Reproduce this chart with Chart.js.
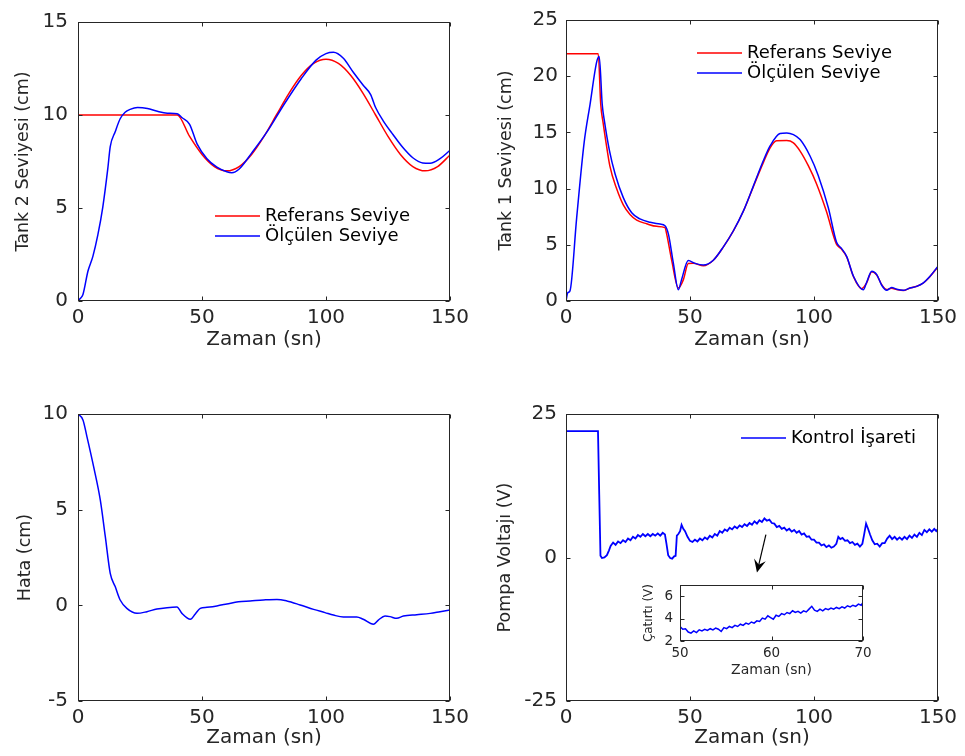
<!DOCTYPE html>
<html lang="tr">
<head>
<meta charset="UTF-8" />
<title>Tank seviye kontrolü</title>
<script src="https://cdn.jsdelivr.net/npm/chart.js"></script>
<style>
  html, body { margin: 0; padding: 0; background: #fff; }
  #wrap { position: relative; width: 965px; height: 756px; overflow: hidden; }
  canvas { position: absolute; }
</style>
</head>
<body>
<div id="wrap">
  <canvas id="c1" width="482" height="378" style="left:0;top:0"></canvas>
  <canvas id="c2" width="483" height="378" style="left:482px;top:0"></canvas>
  <canvas id="c3" width="482" height="378" style="left:0;top:378px"></canvas>
  <canvas id="c4" width="483" height="378" style="left:482px;top:378px"></canvas>
  <canvas id="c5" width="248" height="112" style="left:632px;top:570px"></canvas>
</div>
<script>
// ---- data ----
const timeTicks = [0, 50, 100, 150];

// Tank 2 (top left)
const t2RefT = [0, 40, 45, 50, 55, 60, 65, 70, 75, 80, 85, 90, 95, 100, 105, 110, 115, 120, 125, 130, 135, 140, 145, 150];
const t2RefV = [10, 10, 8.85, 7.88, 7.23, 7.0, 7.23, 7.88, 8.85, 10.0, 11.15, 12.12, 12.77, 13.0, 12.77, 12.12, 11.15, 10.0, 8.85, 7.88, 7.23, 7.0, 7.23, 7.85];
const t2MeasT = [0, 1, 2, 4, 6, 8, 10, 12, 13, 15, 17, 19, 21, 24, 28, 32, 36, 40, 42, 45, 48, 52, 56, 60, 62, 65, 70, 76, 83, 90, 96, 100, 103, 107, 111, 115, 118, 120, 123, 127, 131, 135, 139, 142, 146, 150];
const t2MeasV = [0, 0.15, 0.35, 1.6, 2.4, 3.55, 5.05, 7.1, 8.3, 9.1, 9.8, 10.15, 10.3, 10.4, 10.35, 10.2, 10.1, 10.07, 9.85, 9.5, 8.45, 7.65, 7.2, 6.95, 6.9, 7.1, 7.95, 9.05, 10.55, 11.95, 12.95, 13.3, 13.37, 13.05, 12.3, 11.6, 11.1, 10.4, 9.7, 8.95, 8.25, 7.7, 7.42, 7.4, 7.65, 8.1];
const t2Ticks = [0, 5, 10, 15];

// Tank 1 (top right)
const t1RefT = [0, 13, 14, 15, 16, 17.7, 20.4, 23.1, 25.8, 28.5, 32.5, 36.6, 39.9, 40.6, 42.6, 45.3, 47.3, 49.3, 51.3, 55.4, 59.4, 63.4, 67.5, 71.5, 75.5, 79.6, 82.3, 84.9, 89, 91.7, 94.4, 97.7, 101, 105, 109, 111, 113.2, 115.9, 119.2, 121.2, 123.3, 125.3, 127.3, 129.3, 131.3, 133.3, 136, 138.7, 141.4, 144.1, 146.8, 150];
const t1RefV = [22, 22, 17.5, 15.8, 14.3, 12.0, 10.0, 8.55, 7.7, 7.2, 6.87, 6.64, 6.53, 5.95, 3.63, 1.16, 1.88, 3.33, 3.35, 3.13, 3.63, 4.79, 6.24, 7.98, 10.15, 12.33, 13.63, 14.25, 14.27, 14.07, 13.34, 12.04, 10.44, 7.98, 5.08, 4.64, 3.92, 2.18, 1.1, 1.6, 2.61, 2.32, 1.45, 1.02, 1.13, 1.02, 0.93, 1.16, 1.31, 1.6, 2.18, 3.05];
const t1MeasT = [0, 0.7, 1.6, 4.3, 7.3, 9.7, 12.4, 13.4, 14.6, 15.5, 17.5, 19.8, 23.1, 26.5, 29.8, 33.9, 37.9, 39.9, 41.3, 43.3, 45.3, 46.6, 49.3, 52, 55.4, 59.4, 63.4, 67.5, 71.5, 75.5, 79.6, 82.3, 86.3, 89, 91.7, 94.4, 98.4, 101.7, 105.8, 109.1, 111, 113.2, 115.9, 119.9, 121.2, 123.3, 125.3, 127.3, 129.3, 131.3, 133.3, 136, 138.7, 141.4, 144.1, 146.8, 150];
const t1MeasV = [0, 0.73, 0.9, 7.4, 14.07, 17.5, 21.3, 21.75, 17.5, 16.0, 13.4, 11.3, 9.2, 7.85, 7.3, 7.0, 6.85, 6.7, 5.95, 3.34, 1.0, 1.9, 3.6, 3.35, 3.2, 3.63, 4.8, 6.25, 8.0, 10.2, 12.5, 13.8, 14.9, 14.95, 14.8, 14.36, 12.9, 11.17, 8.27, 5.22, 4.7, 3.95, 2.2, 1.0, 1.65, 2.65, 2.35, 1.4, 0.95, 1.2, 1.05, 0.95, 1.15, 1.3, 1.62, 2.2, 3.1];
const t1Ticks = [0, 5, 10, 15, 20, 25];

// Hata (bottom left)
const errT = [0, 2, 3.6, 6.3, 9, 11, 13, 15, 17, 19.7, 23.8, 27.8, 31.8, 35.9, 39.9, 41.9, 45.3, 47.3, 49.3, 52, 56, 60, 64.7, 69.4, 74.8, 80.2, 84.2, 89.6, 95, 99.6, 103, 107, 112.4, 115, 119.1, 121.1, 123.8, 125.8, 128.5, 131.2, 136.6, 142, 146, 150];
const errV = [10, 9.69, 8.82, 7.25, 5.5, 3.6, 1.67, 0.98, 0.28, -0.16, -0.42, -0.33, -0.19, -0.12, -0.09, -0.42, -0.73, -0.45, -0.16, -0.1, -0.03, 0.07, 0.19, 0.23, 0.28, 0.31, 0.23, 0.02, -0.21, -0.38, -0.51, -0.61, -0.61, -0.73, -0.99, -0.77, -0.56, -0.59, -0.68, -0.56, -0.49, -0.42, -0.33, -0.24];
const errTicks = [-5, 0, 5, 10];

// Pompa voltajı (bottom right)
const uT = [0, 12.9, 13.4, 13.9, 14.5, 15.5, 16.5, 17.3, 18, 19, 20, 21, 22, 23, 24, 25, 26, 27, 28, 29, 30, 31, 32, 33, 34, 35, 36, 37, 38, 39, 39.9, 40.5, 41.2, 42, 42.8, 43.6, 44.2, 44.7, 45.3, 46, 46.6, 47.3, 48, 49, 50, 51, 52, 53, 54, 55, 56, 57, 58, 59, 60, 61, 62, 63, 64, 65, 66, 67, 68, 69, 70, 71, 72, 73, 74, 75, 76, 77, 78, 79, 80, 81, 82, 83, 84, 85, 86, 87, 88, 89, 90, 91, 92, 93, 94, 95, 96, 97, 98, 99, 100, 101, 102, 103, 104, 105, 106, 107, 108, 109, 109.8, 110.6, 111.5, 112.5, 113.5, 114.5, 115.5, 116.5, 117.5, 118.5, 119.5, 120.3, 121, 121.8, 122.6, 123.5, 124.5, 125.5, 126.5, 127.5, 128.5, 129.5, 130.5, 131.5, 132.5, 133.5, 134.5, 135.5, 136.5, 137.5, 138.5, 139.5, 140.5, 141.5, 142.5, 143.5, 144.5, 145.5, 146.5, 147.5, 148.5, 149.3, 150];
const uV = [22, 22, 11, 0.3, -0.1, 0, 0.4, 1.2, 2.0, 2.6, 2.2, 2.8, 2.5, 3.0, 2.7, 3.3, 3.0, 3.6, 3.3, 3.9, 3.6, 4.1, 3.7, 4.1, 3.7, 4.1, 3.8, 4.2, 3.8, 4.3, 4.0, 2.4, 0.4, -0.1, -0.2, 0.2, 0.3, 3.8, 4.1, 4.6, 5.7, 5.0, 4.6, 3.6, 2.9, 2.7, 3.1, 2.8, 3.3, 3.0, 3.5, 3.2, 3.8, 3.5, 4.1, 3.8, 4.6, 4.3, 4.9, 4.6, 5.2, 4.9, 5.4, 5.1, 5.6, 5.3, 5.8, 5.5, 6.0, 5.7, 6.3, 5.9, 6.5, 6.2, 6.8, 6.4, 6.6, 6.0, 5.9, 5.3, 5.5, 5.0, 5.2, 4.7, 5.0, 4.5, 4.8, 4.3, 4.6, 4.0, 4.2, 3.6, 3.7, 3.1, 3.1, 2.6, 2.6, 2.1, 2.3, 1.8, 2.1, 1.7, 1.9, 2.4, 3.6, 3.2, 3.4, 2.9, 3.0, 2.5, 2.7, 2.2, 2.4, 1.9, 2.4, 4.2, 5.9, 5.0, 4.0, 3.0, 2.3, 2.4, 1.9, 2.5, 2.5, 3.3, 3.8, 3.2, 3.6, 3.1, 3.5, 3.1, 3.6, 3.2, 3.8, 3.4, 4.0, 3.6, 4.3, 3.9, 4.8, 4.4, 4.9, 4.5, 5.0, 4.6, 5.0];
const uTicks = [-25, 0, 25];

// Çatırtı inset (50-70 s)
const insT = [50, 50.3, 50.6, 50.9, 51.2, 51.5, 51.8, 52.1, 52.4, 52.7, 53, 53.3, 53.6, 53.9, 54.2, 54.5, 54.8, 55.1, 55.4, 55.7, 56, 56.3, 56.6, 56.9, 57.2, 57.5, 57.8, 58.1, 58.4, 58.7, 59, 59.3, 59.6, 59.9, 60.2, 60.5, 60.8, 61.1, 61.4, 61.7, 62, 62.3, 62.6, 62.9, 63.2, 63.5, 63.8, 64.1, 64.4, 64.7, 65, 65.3, 65.6, 65.9, 66.2, 66.5, 66.8, 67.1, 67.4, 67.7, 68, 68.3, 68.6, 68.9, 69.2, 69.5, 69.8, 70];
const insV = [3.3, 3.05, 3.1, 2.8, 2.7, 2.9, 2.75, 3.0, 2.9, 3.05, 2.95, 3.1, 3.0, 3.15, 3.05, 2.85, 3.2, 3.1, 3.3, 3.2, 3.4, 3.3, 3.5, 3.4, 3.6, 3.5, 3.7, 3.6, 3.8, 3.75, 4.05, 3.95, 4.25, 4.1, 3.95, 4.3, 4.2, 4.45, 4.35, 4.55, 4.45, 4.7, 4.55, 4.65, 4.5, 4.7, 4.6, 4.85, 5.1, 4.75, 4.65, 4.85, 4.7, 4.9, 4.8, 4.95, 4.85, 5.0, 4.9, 5.05, 4.95, 5.15, 5.05, 5.2, 5.1, 5.3, 5.2, 5.45];
const insXTicks = [50, 60, 70];
const insYTicks = [2, 4, 6];

// ---- drawing ----
const FONT = "'DejaVu Sans', sans-serif";
const INK = '#262626';
const RED = '#ff0000';
const BLUE = '#0000ff';
Chart.defaults.font.family = FONT;
Chart.defaults.color = INK;

const pts = (ts, vs) => ts.map((t, i) => ({ x: t, y: vs[i] }));

// matlab style box with inward ticks on all sides
const boxPlugin = {
  id: 'box',
  beforeDatasetsDraw(chart, args, o) {
    if (!o.fill) return;
    const a = chart.chartArea, ctx = chart.ctx;
    ctx.save();
    ctx.fillStyle = '#fff';
    ctx.fillRect(a.left, a.top, a.right - a.left, a.bottom - a.top);
    ctx.restore();
  },
  afterDraw(chart, args, o) {
    const { ctx, chartArea: a, scales } = chart;
    const len = o.len || 4;
    const L = Math.round(a.left) + 0.5, R = Math.round(a.right) - 0.5;
    const T = Math.round(a.top) + 0.5, B = Math.round(a.bottom) - 0.5;
    ctx.save();
    ctx.strokeStyle = INK;
    ctx.lineWidth = 1;
    ctx.strokeRect(L, T, R - L, B - T);
    ctx.beginPath();
    scales.x.ticks.forEach(tk => {
      const p = Math.round(scales.x.getPixelForValue(tk.value)) + 0.5;
      ctx.moveTo(p, B); ctx.lineTo(p, B - len);
      ctx.moveTo(p, T); ctx.lineTo(p, T + len);
    });
    scales.y.ticks.forEach(tk => {
      const p = Math.round(scales.y.getPixelForValue(tk.value)) + 0.5;
      ctx.moveTo(L, p); ctx.lineTo(L + len, p);
      ctx.moveTo(R, p); ctx.lineTo(R - len, p);
    });
    ctx.stroke();
    ctx.restore();
  }
};

// legend without a frame, at a given spot
const legendPlugin = {
  id: 'mlegend',
  afterDraw(chart, args, o) {
    if (!o.show) return;
    const ctx = chart.ctx;
    ctx.save();
    ctx.font = o.size + 'px ' + FONT;
    ctx.textBaseline = 'middle';
    chart.data.datasets.forEach((ds, i) => {
      const y = o.y + i * o.gap;
      ctx.strokeStyle = ds.borderColor;
      ctx.lineWidth = 1.5;
      ctx.beginPath();
      ctx.moveTo(o.x, y); ctx.lineTo(o.x + o.len, y);
      ctx.stroke();
      ctx.fillStyle = '#000';
      ctx.fillText(ds.label, o.x + o.len + 5, y);
    });
    ctx.restore();
  }
};

// annotation arrow (data coordinates)
const arrowPlugin = {
  id: 'arrow',
  afterDraw(chart, args, o) {
    if (!o.show) return;
    const { ctx, scales: { x, y } } = chart;
    const x0 = x.getPixelForValue(o.fx), y0 = y.getPixelForValue(o.fy);
    const x1 = x.getPixelForValue(o.tx), y1 = y.getPixelForValue(o.ty);
    const d = Math.hypot(x1 - x0, y1 - y0);
    const ux = (x1 - x0) / d, uy = (y1 - y0) / d;
    const px = -uy, py = ux;
    const hl = 13, hw = 6;
    ctx.save();
    ctx.strokeStyle = '#000';
    ctx.fillStyle = '#000';
    ctx.lineWidth = 1.2;
    ctx.beginPath();
    ctx.moveTo(x0, y0); ctx.lineTo(x1 - ux * 6, y1 - uy * 6);
    ctx.stroke();
    ctx.beginPath();
    ctx.moveTo(x1, y1);
    ctx.lineTo(x1 - ux * hl + px * hw, y1 - uy * hl + py * hw);
    ctx.lineTo(x1 - ux * hl * 0.6, y1 - uy * hl * 0.6);
    ctx.lineTo(x1 - ux * hl - px * hw, y1 - uy * hl - py * hw);
    ctx.closePath();
    ctx.fill();
    ctx.restore();
  }
};

function panel(id, o) {
  return new Chart(document.getElementById(id), {
    type: 'line',
    data: { datasets: o.datasets },
    options: {
      responsive: false,
      animation: false,
      devicePixelRatio: 1,
      layout: { padding: { top: o.padTop, right: o.padRight, left: 0, bottom: 0 } },
      elements: { point: { radius: 0 } },
      plugins: {
        legend: { display: false },
        tooltip: { enabled: false },
        box: { fill: !!o.fill },
        mlegend: o.legend || { show: false },
        arrow: o.arrow || { show: false }
      },
      scales: {
        x: {
          type: 'linear', min: o.xMin, max: o.xMax,
          afterBuildTicks: s => { s.ticks = o.xTicks.map(v => ({ value: v })); },
          afterFit: s => { s.height = o.xH; },
          grid: { display: false, drawTicks: false },
          border: { display: false },
          ticks: { font: { size: o.tickSize }, color: INK, padding: o.xTickPad, maxRotation: 0, autoSkip: false },
          title: { display: true, text: o.xTitle, font: { size: o.xTitleSize }, color: INK, padding: { top: 0, bottom: o.xTitlePad } }
        },
        y: {
          type: 'linear', min: o.yMin, max: o.yMax,
          afterBuildTicks: s => { s.ticks = o.yTicks.map(v => ({ value: v })); },
          afterFit: s => { s.width = o.yW; },
          grid: { display: false, drawTicks: false },
          border: { display: false },
          ticks: { font: { size: o.tickSize }, color: INK, padding: o.yTickPad, autoSkip: false },
          title: { display: true, text: o.yTitle, font: { size: o.yTitleSize }, color: INK, padding: { top: o.yTitlePad, bottom: 0 } }
        }
      }
    },
    plugins: [boxPlugin, legendPlugin, arrowPlugin]
  });
}

const common = { xMin: 0, xMax: 150, xTicks: timeTicks, tickSize: 20, xTickPad: 5, xTitle: 'Zaman (sn)', xTitleSize: 20, yTitleSize: 17.5 };

panel('c1', Object.assign({}, common, {
  datasets: [
    { label: 'Referans Seviye', data: pts(t2RefT, t2RefV), borderColor: RED, borderWidth: 1.5, cubicInterpolationMode: 'monotone', order: 2 },
    { label: 'Ölçülen Seviye', data: pts(t2MeasT, t2MeasV), borderColor: BLUE, borderWidth: 1.5, cubicInterpolationMode: 'monotone', order: 1 }
  ],
  padTop: 14, padRight: 32, xH: 77, yW: 78,
  yMin: 0, yMax: 15, yTicks: t2Ticks, yTickPad: 10,
  xTitlePad: 26, yTitle: 'Tank 2 Seviyesi (cm)', yTitlePad: 12.5,
  legend: { show: true, x: 215, y: 216, gap: 20, len: 45, size: 18 }
}));

panel('c2', Object.assign({}, common, {
  datasets: [
    { label: 'Referans Seviye', data: pts(t1RefT, t1RefV), borderColor: RED, borderWidth: 1.5, cubicInterpolationMode: 'monotone', order: 2 },
    { label: 'Ölçülen Seviye', data: pts(t1MeasT, t1MeasV), borderColor: BLUE, borderWidth: 1.5, cubicInterpolationMode: 'monotone', order: 1 }
  ],
  padTop: 14, padRight: 27, xH: 77, yW: 84,
  yMin: 0, yMax: 25, yTicks: t1Ticks, yTickPad: 8,
  xTitlePad: 26, yTitle: 'Tank 1 Seviyesi (cm)', yTitlePad: 14,
  legend: { show: true, x: 215, y: 53, gap: 20, len: 45, size: 18 }
}));

panel('c3', Object.assign({}, common, {
  datasets: [
    { label: '', data: pts(errT, errV), borderColor: BLUE, borderWidth: 1.5, cubicInterpolationMode: 'monotone' }
  ],
  padTop: 36, padRight: 32, xH: 55, yW: 78,
  yMin: -5, yMax: 10, yTicks: errTicks, yTickPad: 10,
  xTitlePad: 6, yTitle: 'Hata (cm)', yTitlePad: 15
}));

panel('c4', Object.assign({}, common, {
  datasets: [
    { label: 'Kontrol İşareti', data: pts(uT, uV), borderColor: BLUE, borderWidth: 1.8, tension: 0 }
  ],
  padTop: 36, padRight: 27, xH: 55, yW: 84,
  yMin: -25, yMax: 25, yTicks: uTicks, yTickPad: 9,
  xTitlePad: 6, yTitle: 'Pompa Voltajı (V)', yTitlePad: 12.5,
  legend: { show: true, x: 259, y: 60, gap: 20, len: 45, size: 18 },
  arrow: { show: true, fx: 80.6, fy: 4.0, tx: 77, ty: -2.6 }
}));

panel('c5', {
  datasets: [
    { label: '', data: pts(insT, insV), borderColor: BLUE, borderWidth: 1.5, tension: 0 }
  ],
  fill: true,
  padTop: 9, padRight: 17, xH: 41, yW: 48,
  xMin: 50, xMax: 70, xTicks: insXTicks, tickSize: 13.5, xTickPad: 4,
  xTitle: 'Zaman (sn)', xTitleSize: 14, xTitlePad: 3,
  yMin: 2, yMax: 7, yTicks: insYTicks, yTickPad: 7,
  yTitle: 'Çatırtı (V)', yTitleSize: 12, yTitlePad: 10
});
</script>
</body>
</html>
